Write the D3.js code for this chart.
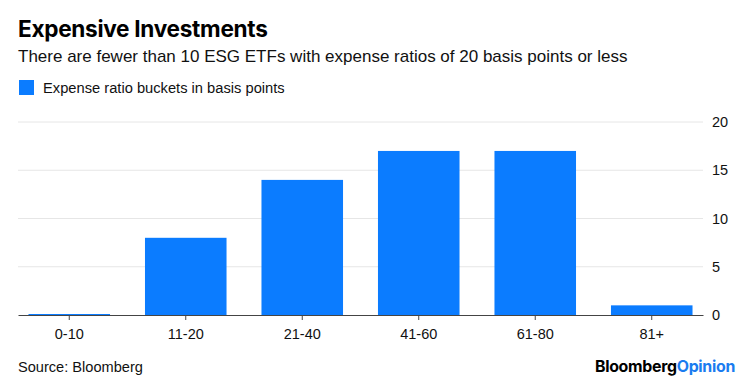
<!DOCTYPE html>
<html>
<head>
<meta charset="utf-8">
<script src="https://cdn.jsdelivr.net/npm/d3@7"></script>
<style>
  body { margin: 0; background: #fff; }
  svg { display: block; font-family: "Liberation Sans", Arial, sans-serif; }
  .title { font-family: Inter, "Liberation Sans", sans-serif; font-weight: 700; }
  .axis-g .domain { stroke: #444; }
  .axis-g text { fill: #111; }
</style>
</head>
<body>
<div id="chart"></div>
<script>
const categories = ["0-10", "11-20", "21-40", "41-60", "61-80", "81+"];
const counts = [0, 8, 14, 17, 17, 1];
const yTicks = [0, 5, 10, 15, 20];

const width = 750;
const height = 384;
const marginLeft = 18;
const marginRight = 47;
const plotTop = 122;
const plotBottom = 315;
const barColor = "#0b7cff";

const svg = d3.select("#chart").append("svg").attr("width", width).attr("height", height);

// header
svg.append("text").attr("class", "title").attr("x", 18).attr("y", 37)
  .attr("font-size", 22.6).attr("fill", "#000").attr("letter-spacing", -0.3)
  .text("Expensive Investments");
svg.append("text").attr("x", 18).attr("y", 62).attr("font-size", 17).attr("fill", "#111")
  .text("There are fewer than 10 ESG ETFs with expense ratios of 20 basis points or less");

// legend
svg.append("rect").attr("x", 19).attr("y", 80).attr("width", 15).attr("height", 15).attr("fill", barColor);
svg.append("text").attr("x", 43).attr("y", 93).attr("font-size", 14.7).attr("fill", "#111")
  .text("Expense ratio buckets in basis points");

const x = d3.scaleBand().domain(categories)
  .range([marginLeft, width - marginRight]).paddingInner(0.3).paddingOuter(0.09);
const y = d3.scaleLinear().domain([0, 20]).range([plotBottom, plotTop]);

// grid
svg.append("g").selectAll("line").data(yTicks.filter((d) => d > 0)).join("line")
  .attr("x1", marginLeft).attr("x2", width - marginRight)
  .attr("y1", (d) => y(d)).attr("y2", (d) => y(d))
  .attr("stroke", "#e6e6e6").attr("stroke-width", 1);

// y axis on the right
svg.append("g").attr("class", "axis-g")
  .attr("transform", `translate(${width - marginRight},0)`)
  .call(d3.axisRight(y).tickValues(yTicks).tickSize(0).tickPadding(9))
  .call((g) => g.select(".domain").remove())
  .call((g) => g.selectAll("text").attr("font-size", 14.5).attr("font-family", "Liberation Sans, Arial, sans-serif"));

// bars (the empty bucket still shows as a hairline on the baseline)
svg.append("g").selectAll("rect").data(counts).join("rect")
  .attr("x", (_, i) => x(categories[i]))
  .attr("width", x.bandwidth())
  .attr("y", (d) => Math.min(y(d), plotBottom - 1))
  .attr("height", (d) => Math.max(plotBottom - y(d), 1))
  .attr("fill", barColor);

// x axis
svg.append("g").attr("class", "axis-g")
  .attr("transform", `translate(0,${plotBottom})`)
  .call(d3.axisBottom(x).tickSize(5).tickSizeOuter(0).tickPadding(9))
  .call((g) => g.select(".domain").attr("stroke", "#444"))
  .call((g) => g.selectAll(".tick line").attr("stroke", "#444"))
  .call((g) => g.selectAll("text").attr("font-size", 14.5).attr("font-family", "Liberation Sans, Arial, sans-serif"));

// footer
svg.append("text").attr("x", 18).attr("y", 372).attr("font-size", 14.6).attr("fill", "#111")
  .text("Source: Bloomberg");
const brand = svg.append("text").attr("class", "title").attr("x", 735).attr("y", 372)
  .attr("text-anchor", "end").attr("font-size", 15.9).attr("letter-spacing", -0.3);
brand.append("tspan").attr("fill", "#000").text("Bloomberg");
brand.append("tspan").attr("fill", "#1a7cf0").text("Opinion");
</script>
</body>
</html>
